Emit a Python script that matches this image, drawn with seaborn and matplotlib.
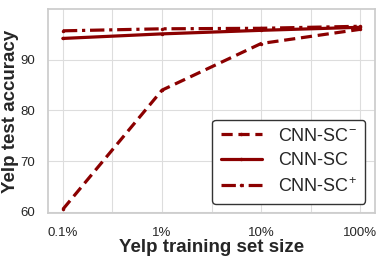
import matplotlib
matplotlib.use('Agg')
import matplotlib.pyplot as plt
import seaborn as sns
import pandas as pd
import numpy as np

sizes = ['0.1%', '1%', '10%', '100%']
cnn_sc_minus = [60.5, 84.0, 93.2, 96.0]
cnn_sc = [94.2, 95.1, 95.8, 96.4]
cnn_sc_plus = [95.7, 96.1, 96.2, 96.6]
labels = ['CNN-SC$^{-}$', 'CNN-SC', 'CNN-SC$^{+}$']

sns.set_theme(style='whitegrid')
plt.rcParams['font.family'] = ['Liberation Sans', 'DejaVu Sans']
plt.rcParams['mathtext.fontset'] = 'custom'
plt.rcParams['mathtext.rm'] = 'Liberation Sans'

pos = np.arange(len(sizes))
df = pd.DataFrame({
    'x': np.tile(pos, 3),
    'acc': cnn_sc_minus + cnn_sc + cnn_sc_plus,
    'model': np.repeat(labels, len(sizes)),
})

fig, ax = plt.subplots(figsize=(3.84, 2.58), dpi=100)
fig.subplots_adjust(left=0.125, right=0.977, top=0.965, bottom=0.175)

dashes = {labels[0]: (3.5, 1.8), labels[1]: '', labels[2]: (4.5, 1.5, 1, 1.5)}
sns.lineplot(data=df, x='x', y='acc', hue='model', style='model',
             palette=['#8b0000'] * 3, dashes=dashes, markers=['o'] * 3,
             markersize=2.5, markeredgewidth=0, linewidth=2.3, ax=ax)

ax.set_xticks(pos)
ax.set_xticklabels(sizes, fontsize=9.5)
ax.set_xticks(pos[:-1] + 0.5, minor=True)
ax.grid(True, which='both', color='#dddddd', linewidth=0.8)
ax.set_xlim(-0.15, 3.15)
ax.set_ylim(59.8, 100)
ax.set_yticks([60, 70, 80, 90])
ax.tick_params(axis='y', labelsize=9.5, pad=3)
ax.tick_params(axis='x', pad=4)
for s in ax.spines.values():
    s.set_color('#cccccc')

ax.set_xlabel('Yelp training set size', fontsize=13.5, fontweight='bold', labelpad=0.5)
ax.set_ylabel('Yelp test accuracy', fontsize=13.5, fontweight='bold', labelpad=1.5)

leg = ax.legend(loc='lower right', fontsize=13, handlelength=2.3,
                frameon=True, fancybox=True, borderpad=0.45, labelspacing=0.42,
                handletextpad=0.9, borderaxespad=0,
                bbox_to_anchor=(0.97, 0.045))
leg.get_frame().set_edgecolor('#333333')
leg.get_frame().set_linewidth(1.0)
leg.get_frame().set_alpha(1)

fig.savefig('out.png', dpi=100)
